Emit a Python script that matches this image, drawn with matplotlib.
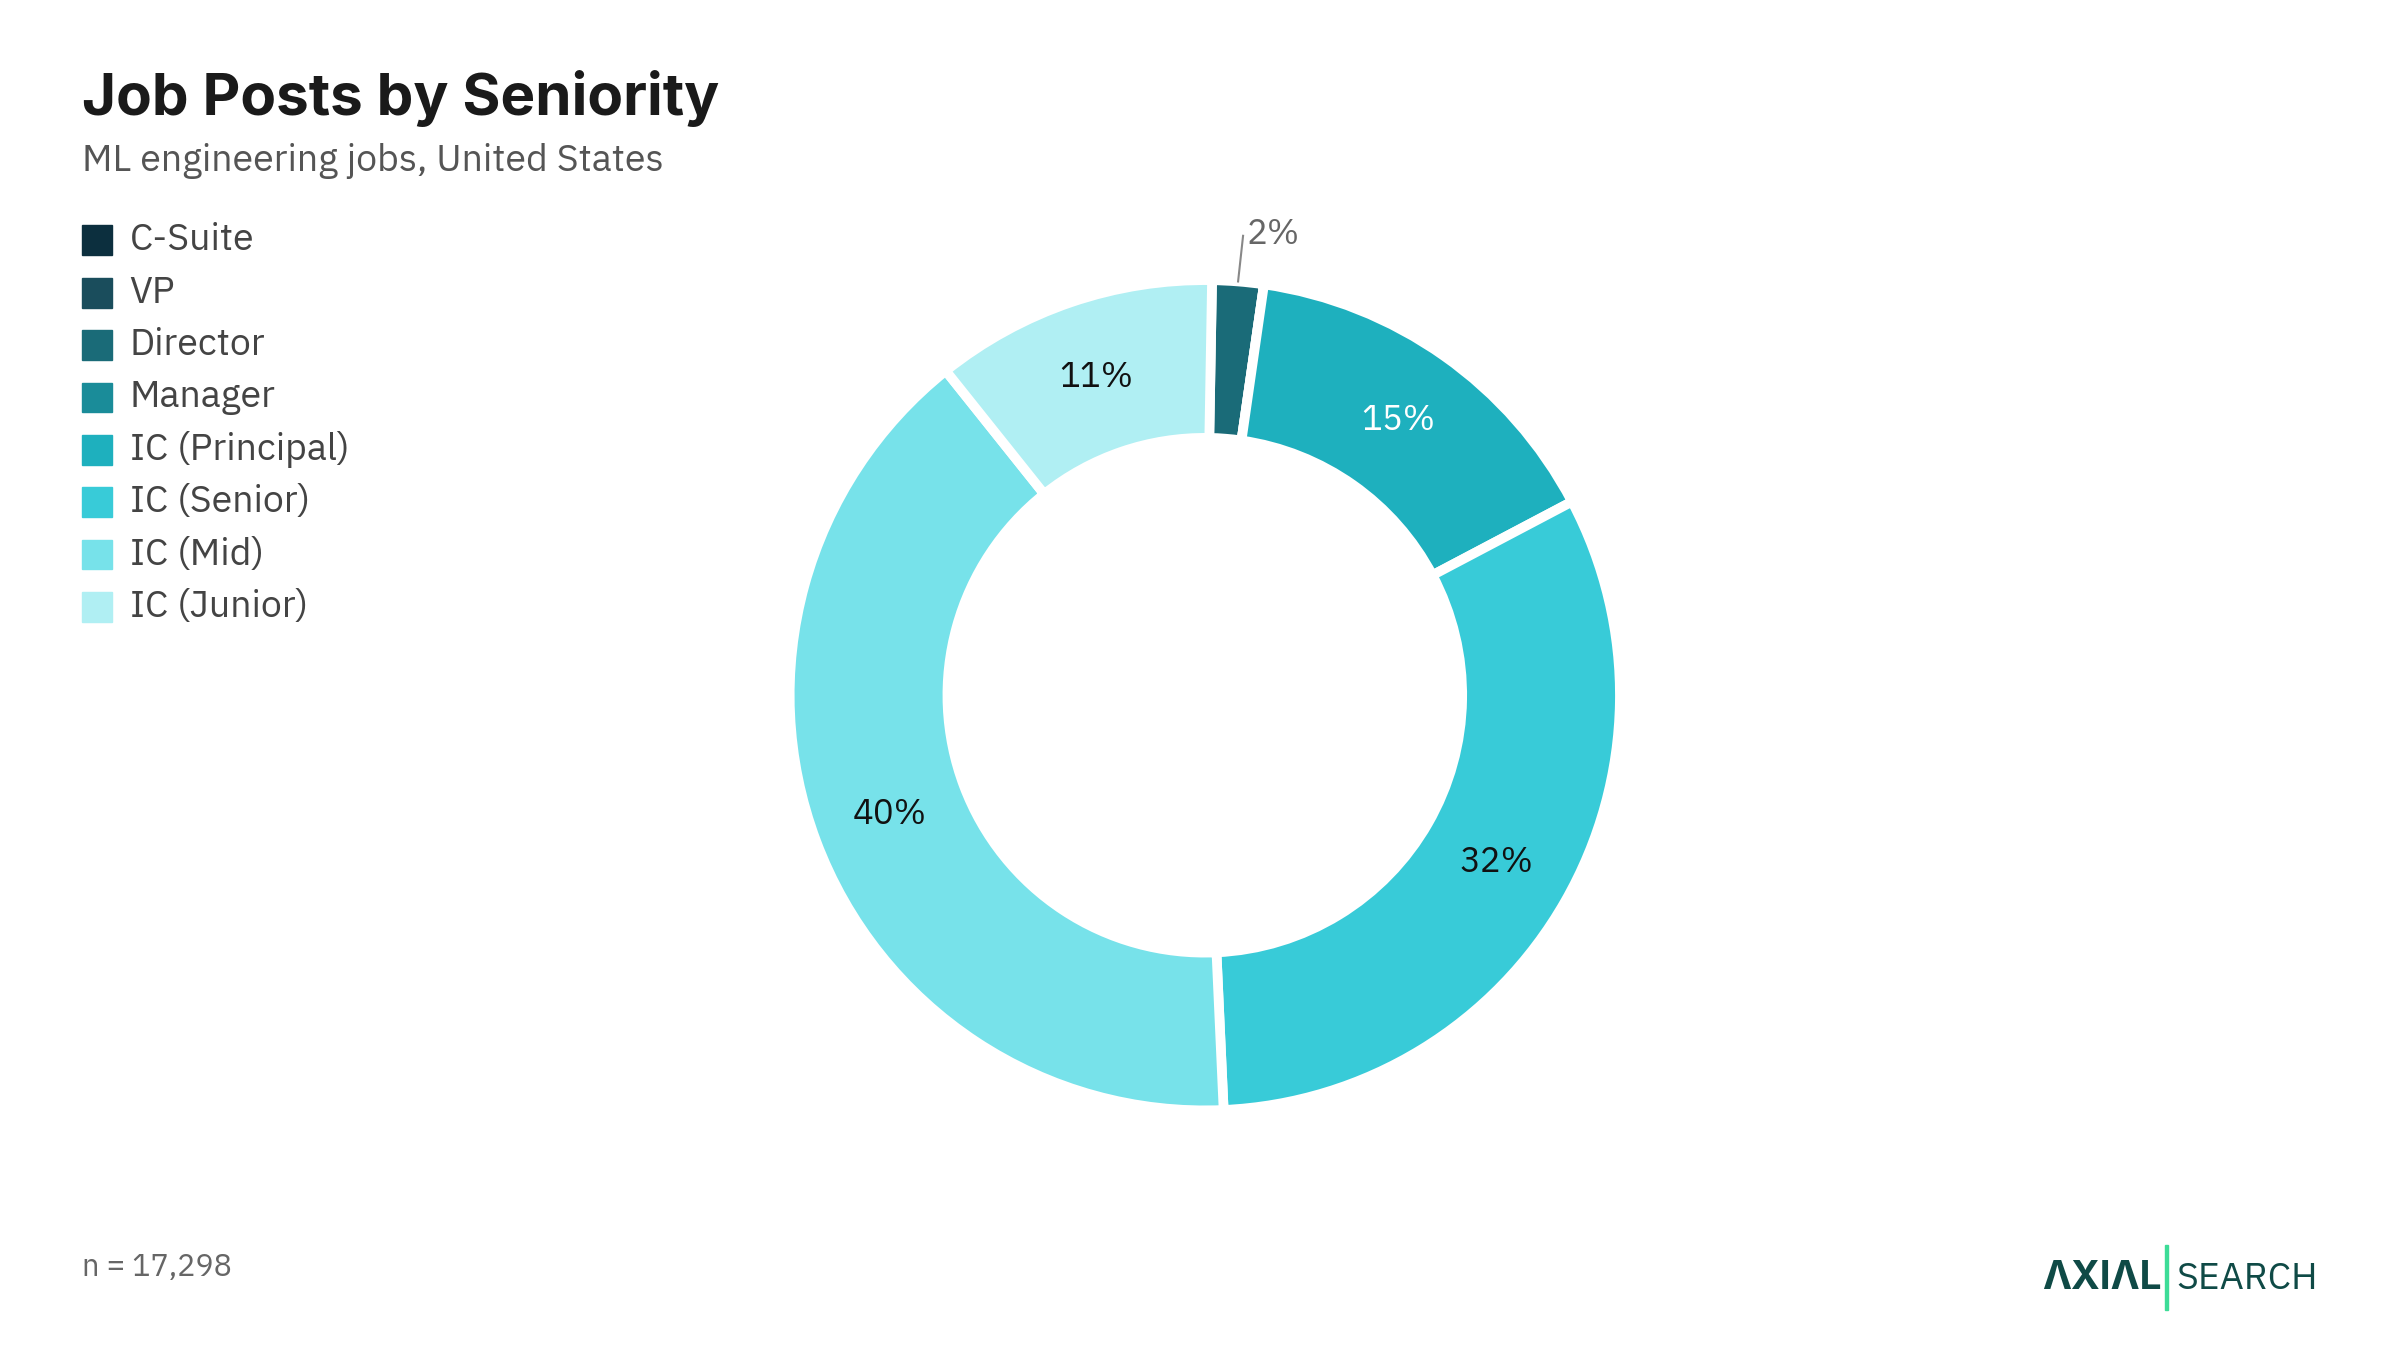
import matplotlib.pyplot as plt
from matplotlib.patches import Rectangle
import numpy as np

categories = ["C-Suite", "VP", "Director", "Manager", "IC (Principal)",
              "IC (Senior)", "IC (Mid)", "IC (Junior)"]
shares = [0, 0, 2, 0, 15, 32, 40, 11]
colors = ["#0c2f3e", "#1a4d5c", "#1a6b78", "#1a8c99", "#1eb0be",
          "#38cbd8", "#77e2ea", "#b0eff3"]
text_colors = ["white", "white", "#666666", "white", "white",
               "#111111", "#111111", "#111111"]

plt.rcParams['font.family'] = ['IBM Plex Sans', 'Inter', 'DejaVu Sans']

fig = plt.figure(figsize=(24, 13.5), dpi=100)

fig.text(0.034, 0.915, "Job Posts by Seniority", fontsize=42, fontweight="bold",
         family="Inter", color="#1a1a1a", va="baseline")
fig.text(0.034, 0.873, "ML engineering jobs, United States", fontsize=27,
         color="#555555", va="baseline")

# legend
for i, (name, c) in enumerate(zip(categories, colors)):
    y = 0.822 - i * 0.0388
    fig.patches.append(Rectangle((0.034, y - 0.011), 0.0125, 0.022,
                                 transform=fig.transFigure, color=c))
    fig.text(0.054, y, name, fontsize=27, color="#444444", va="center")

ax = fig.add_axes([0.329, 0.1775, 0.346, 0.615])
wedges, _ = ax.pie(shares, colors=colors, startangle=89, counterclock=False,
                   radius=1, wedgeprops=dict(width=0.38, edgecolor="white", linewidth=7))
ax.set_xlim(-1, 1)
ax.set_ylim(-1, 1)
ax.set_aspect("equal")

for w, v, tc in zip(wedges, shares, text_colors):
    if v <= 0:
        continue
    ang = np.deg2rad((w.theta1 + w.theta2) / 2)
    if v < 5:
        x0, y0 = 1.0 * np.cos(ang), 1.0 * np.sin(ang)
        ax.plot([x0, x0 + 0.012], [y0, y0 + 0.11], color="#888888", lw=1.5,
                clip_on=False)
        ax.text(x0 + 0.02, y0 + 0.115, f"{v}%", fontsize=25, color=tc,
                ha="left", va="center")
    else:
        ax.text(0.81 * np.cos(ang), 0.81 * np.sin(ang), f"{v}%", fontsize=25,
                color=tc, ha="center", va="center")

fig.text(0.034, 0.055, "n = 17,298", fontsize=22, color="#666666", va="baseline")
fig.text(0.851, 0.045, "ΛXIΛL", fontsize=28, fontweight="bold", family="Inter",
         color="#0f4a46", va="baseline")
fig.patches.append(Rectangle((0.902, 0.03), 0.0015, 0.048,
                             transform=fig.transFigure, color="#3ddc97"))
fig.text(0.907, 0.045, "SEARCH", fontsize=27, color="#0f4a46", va="baseline")

fig.savefig("out.png", dpi=100, facecolor="white")
